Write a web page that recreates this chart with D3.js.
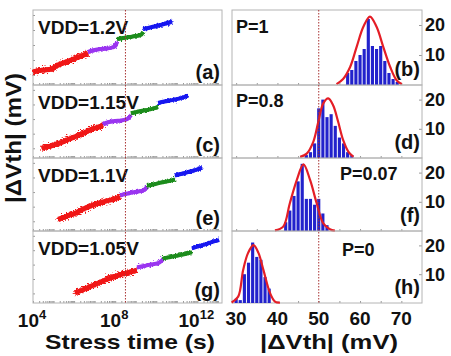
<!DOCTYPE html>
<html><head><meta charset="utf-8">
<script src="https://cdn.jsdelivr.net/npm/d3@7"></script>
<style>
body{margin:0;background:#fff}
svg{display:block}
text{font-family:"Liberation Sans",Arial,sans-serif;font-weight:bold;fill:#111}
</style>
</head><body>
<svg id="chart" width="451" height="356"></svg>
<script>
// ---------- data ----------
const vddLabels = ["VDD=1.2V", "VDD=1.15V", "VDD=1.1V", "VDD=1.05V"];
const leftTags = ["(a)", "(c)", "(e)", "(g)"];
const rightTags = ["(b)", "(d)", "(f)", "(h)"];
const pLabels = ["P=1", "P=0.8", "P=0.07", "P=0"];
const timeTicks = [4, 8, 12];            // log10(stress time / s)
const dvthTicks = [30, 40, 50, 60, 70];  // mV
const countTicks = [10, 20];
const tenYears = 8.5;                    // log10(s) of 10 years
const dvthLimit = 50;                    // mV

// |ΔVth| (mV) vs log10(t) per stress phase: red, purple, green, blue
const stressA = [
  [[4.0,38],[4.3,39.5],[4.6,40],[4.9,41],[5.1,43.5],[5.35,46],[5.6,48],[5.85,50],[6.1,52],[6.4,54.5],[6.68,57]],
  [[6.68,58],[7.0,60],[7.3,61],[7.6,61.5],[7.85,62.5],[8.0,64],[8.09,68]],
  [[8.09,71],[8.4,72],[8.7,73],[9.0,74],[9.25,75],[9.36,78]],
  [[9.36,81],[9.7,82.5],[10.0,84],[10.3,85.5],[10.55,87],[10.77,88.5]]
];
const stressC = [
  [[4.42,35],[4.8,37],[5.1,39],[5.4,41],[5.7,44],[6.0,46.5],[6.3,49],[6.6,52],[6.9,55],[7.2,57],[7.41,59]],
  [[7.41,60],[7.7,62],[8.0,63],[8.3,63.5],[8.6,65],[8.77,69]],
  [[8.77,71],[9.1,72.5],[9.45,74],[9.8,75.5],[10.09,77.5]],
  [[10.09,81.5],[10.4,83],[10.77,84.5],[11.1,86],[11.35,87.5],[11.55,89]]
];
const stressE = [
  [[5.22,37],[5.5,39],[5.8,41.5],[6.04,43],[6.3,46],[6.6,49],[6.9,51.5],[7.2,53.5],[7.51,55.5],[7.9,57.5],[8.24,60]],
  [[8.24,61.5],[8.5,63],[8.82,64.5],[9.1,65.5],[9.35,66.5],[9.55,70.5]],
  [[9.55,71.5],[9.9,73],[10.18,74.5],[10.55,76],[10.91,78]],
  [[10.91,82],[11.2,83.5],[11.55,85.5],[11.9,87.5],[12.23,90]]
];
const stressG = [
  [[6.04,35.5],[6.4,38.5],[6.78,42],[7.1,45],[7.51,49],[7.9,52],[8.24,54.5],[8.6,56.5],[9.06,59]],
  [[9.06,62],[9.4,63.5],[9.7,65],[10.09,66.5],[10.33,70.5]],
  [[10.33,71.5],[10.7,73],[11.06,74.5],[11.4,76],[11.74,78]],
  [[11.74,82],[12.05,84],[12.37,86],[12.7,88.5],[13.06,90.5]]
];

// histograms: [bin centre mV, count]
const histB = [[57,4],[58,5],[59,8],[60,10],[61,12],[62,22],[63,13],[64,12],[65,13],[66,8],[67,4],[68,2],[69,1]];
const histD = [[47,1],[48,2],[49,5],[50,17],[51,20],[52,14],[53,15],[54,11],[55,7],[56,5],[57,2],[58,1]];
const histF = [[42,3],[43,7],[44,12],[45,17],[46,23],[47,11],[48,11],[49,9],[50,11],[51,6],[52,2]];
const histH = [[30,1.5],[31,1],[32,10],[33,14],[34,21],[35,16],[36,15],[37,9],[38,5]];

// fitted distribution curves: [mV, count]
const fitB = [[54.3,0.3],[55.9,2],[57.6,6],[59.2,12.8],[60.8,19.4],[62.4,22.8],[64,19.4],[65.6,12.8],[67.3,6],[68.9,1.5],[70.1,0.3]];
const fitD = [[45.5,0.4],[47.1,1.5],[48.7,5.6],[49.9,12.4],[51.1,18.7],[52.3,20.4],[53.5,18],[54.7,12.4],[55.9,6.2],[57.2,2.1],[58.4,0.4]];
const fitF = [[39.4,0.2],[41.4,1.5],[43.0,9.5],[44.7,17.5],[46.3,22.8],[47.9,17.5],[49.5,9.5],[51.1,2.6],[52.7,0.6],[53.9,0.1]];
const fitH = [[28.9,0.2],[30.5,2.2],[31.7,11.5],[32.9,17.4],[34.2,20.1],[35.4,17.4],[36.6,11.5],[38.2,3.5],[39.4,0.5],[40.6,0.1]];

const stressSets = [stressA, stressC, stressE, stressG];
const histSets = [histB, histD, histF, histH];
const fitSets = [fitB, fitD, fitF, fitH];

// ---------- layout ----------
const svg = d3.select("#chart");
const tops = [10, 85, 158, 231];
const bottoms = [85, 158, 231, 303];
const L = {x0: 33, x1: 222};
const R = {x0: 232, x1: 422};
const phaseColors = ["#f01818", "#9a34f0", "#1c8c1c", "#1818f0"];
const frameColor = "#b4b4b4";

const defs = svg.append("defs");
function noiseFilter(id, scale, freq, seed) {
  const f = defs.append("filter").attr("id", id)
    .attr("filterUnits", "userSpaceOnUse").attr("x", 0).attr("y", 0).attr("width", 451).attr("height", 356);
  f.append("feTurbulence").attr("type", "fractalNoise").attr("baseFrequency", freq)
    .attr("numOctaves", 2).attr("seed", seed).attr("result", "t");
  f.append("feDisplacementMap").attr("in", "SourceGraphic").attr("in2", "t")
    .attr("scale", scale).attr("xChannelSelector", "R").attr("yChannelSelector", "G");
}
noiseFilter("noiseBig", 9, "0.6 0.9", 4);
noiseFilter("noiseSmall", 6, "0.6 0.9", 7);

const xT = d3.scaleLinear().domain([4, 13.2]).range([L.x0, L.x1]);
const xV = d3.scaleLinear().domain([29, 75]).range([R.x0, R.x1]);

for (let i = 0; i < 4; i++) {
  const top = tops[i], bot = bottoms[i];
  const yL = d3.scaleLinear().domain([25, 100]).range([bot, top]);
  const yR = d3.scaleLinear().domain([0, 25]).range([bot, top]);

  // ----- left panel -----
  const gl = svg.append("g");
  const minorT = [];
  for (let d = 4; d <= 13; d++) for (let k = 1; k <= 9; k++) {
    const v = d + Math.log10(k); if (v <= 13.2) minorT.push(v);
  }
  gl.append("g").attr("transform", `translate(0,${bot})`)
    .call(d3.axisBottom(xT).tickValues(minorT).tickSize(-2).tickFormat(""))
    .call(g => { g.select(".domain").remove(); g.selectAll("line").attr("stroke", "#999"); });
  gl.append("g").attr("transform", `translate(${L.x0},0)`)
    .call(d3.axisLeft(yL).tickValues([35, 50, 65, 80, 95]).tickSize(-2).tickFormat(""))
    .call(g => { g.select(".domain").remove(); g.selectAll("line").attr("stroke", "#999"); });
  gl.append("rect").attr("x", L.x0).attr("y", top).attr("width", L.x1 - L.x0).attr("height", bot - top)
    .attr("fill", "none").attr("stroke", frameColor).attr("stroke-width", 1);

  const line = d3.line().x(d => xT(d[0])).y(d => yL(d[1])).curve(d3.curveMonotoneX);
  stressSets[i].forEach((seg, j) => {
    // solid core
    gl.append("path").datum(seg).attr("d", line)
      .attr("fill", "none").attr("stroke", phaseColors[j])
      .attr("stroke-width", j === 0 ? 5 : 4).attr("stroke-linejoin", "round");
    // jagged noisy fringe
    gl.append("path").datum(seg).attr("d", line)
      .attr("fill", "none").attr("stroke", phaseColors[j])
      .attr("stroke-width", j === 0 ? 5 : 3.5).attr("stroke-linejoin", "round")
      .attr("filter", j === 0 ? "url(#noiseBig)" : "url(#noiseSmall)");
  });
  gl.append("text").attr("x", 38).attr("y", top + 24).attr("font-size", 19).text(vddLabels[i]);
  gl.append("text").attr("x", 220).attr("y", bot - 6).attr("font-size", 20)
    .attr("text-anchor", "end").text(leftTags[i]);

  // ----- right panel -----
  const gr = svg.append("g");
  gr.append("g").attr("transform", `translate(0,${bot})`)
    .call(d3.axisBottom(xV).tickValues(d3.range(30, 75, 5)).tickSize(-2).tickFormat(""))
    .call(g => { g.select(".domain").remove(); g.selectAll("line").attr("stroke", "#999"); });
  gr.append("g").attr("transform", `translate(${R.x1},0)`)
    .call(d3.axisRight(yR).tickValues(countTicks).tickSize(-3).tickFormat(""))
    .call(g => { g.select(".domain").remove(); g.selectAll("line").attr("stroke", "#999"); });
  gr.append("rect").attr("x", R.x0).attr("y", top).attr("width", R.x1 - R.x0).attr("height", bot - top)
    .attr("fill", "none").attr("stroke", frameColor).attr("stroke-width", 1);

  const bw = xV(1) - xV(0);
  gr.selectAll("rect.bar").data(histSets[i]).join("rect").attr("class", "bar")
    .attr("x", d => xV(d[0]) - bw * 0.38).attr("width", bw * 0.76)
    .attr("y", d => yR(d[1])).attr("height", d => yR(0) - yR(d[1]))
    .attr("fill", "#2222cc");
  const fl = d3.line().x(d => xV(d[0])).y(d => yR(d[1])).curve(d3.curveCatmullRom);
  gr.append("path").datum(fitSets[i]).attr("d", fl)
    .attr("fill", "none").attr("stroke", "#e41e26").attr("stroke-width", 2.2);

  countTicks.forEach(t => {
    gr.append("text").attr("x", 425).attr("y", yR(t)).attr("dy", "0.35em")
      .attr("font-size", 18).text(t);
  });
  const pX = [236, 236, 340, 342][i];
  const pY = [top + 23, top + 22, top + 22, top + 25][i];
  gr.append("text").attr("x", pX).attr("y", pY).attr("font-size", 18).text(pLabels[i]);
  gr.append("text").attr("x", 420).attr("y", bot - 9).attr("font-size", 20)
    .attr("text-anchor", "end").text(rightTags[i]);
}

// dotted reference lines
svg.append("line").attr("x1", xT(tenYears)).attr("x2", xT(tenYears))
  .attr("y1", tops[0]).attr("y2", bottoms[3])
  .attr("stroke", "#a83232").attr("stroke-width", 1).attr("stroke-dasharray", "1.5,1.5");
svg.append("line").attr("x1", xV(dvthLimit)).attr("x2", xV(dvthLimit))
  .attr("y1", tops[0]).attr("y2", bottoms[3])
  .attr("stroke", "#a83232").attr("stroke-width", 1).attr("stroke-dasharray", "1.5,1.5");

// x tick labels
timeTicks.forEach(t => {
  const tx = svg.append("text").attr("x", xT(t) - 1).attr("y", 327)
    .attr("text-anchor", "middle").attr("font-size", 19);
  tx.append("tspan").text("10");
  tx.append("tspan").attr("dy", -8).attr("font-size", 13).text(t);
});
dvthTicks.forEach(t => {
  svg.append("text").attr("x", xV(t)).attr("y", 325).attr("text-anchor", "middle")
    .attr("font-size", 19).text(t);
});

// axis titles
svg.append("text").attr("x", 130).attr("y", 349).attr("text-anchor", "middle")
  .attr("font-size", 21).attr("textLength", 170).attr("lengthAdjust", "spacingAndGlyphs")
  .text("Stress time (s)");
svg.append("text").attr("x", 329).attr("y", 349).attr("text-anchor", "middle")
  .attr("font-size", 21).attr("textLength", 138).attr("lengthAdjust", "spacingAndGlyphs")
  .text("|ΔVth| (mV)");
svg.append("text").attr("transform", "translate(21,138) rotate(-90)").attr("text-anchor", "middle")
  .attr("font-size", 22).attr("textLength", 130).attr("lengthAdjust", "spacingAndGlyphs")
  .text("|ΔVth| (mV)");
</script>
</body></html>
